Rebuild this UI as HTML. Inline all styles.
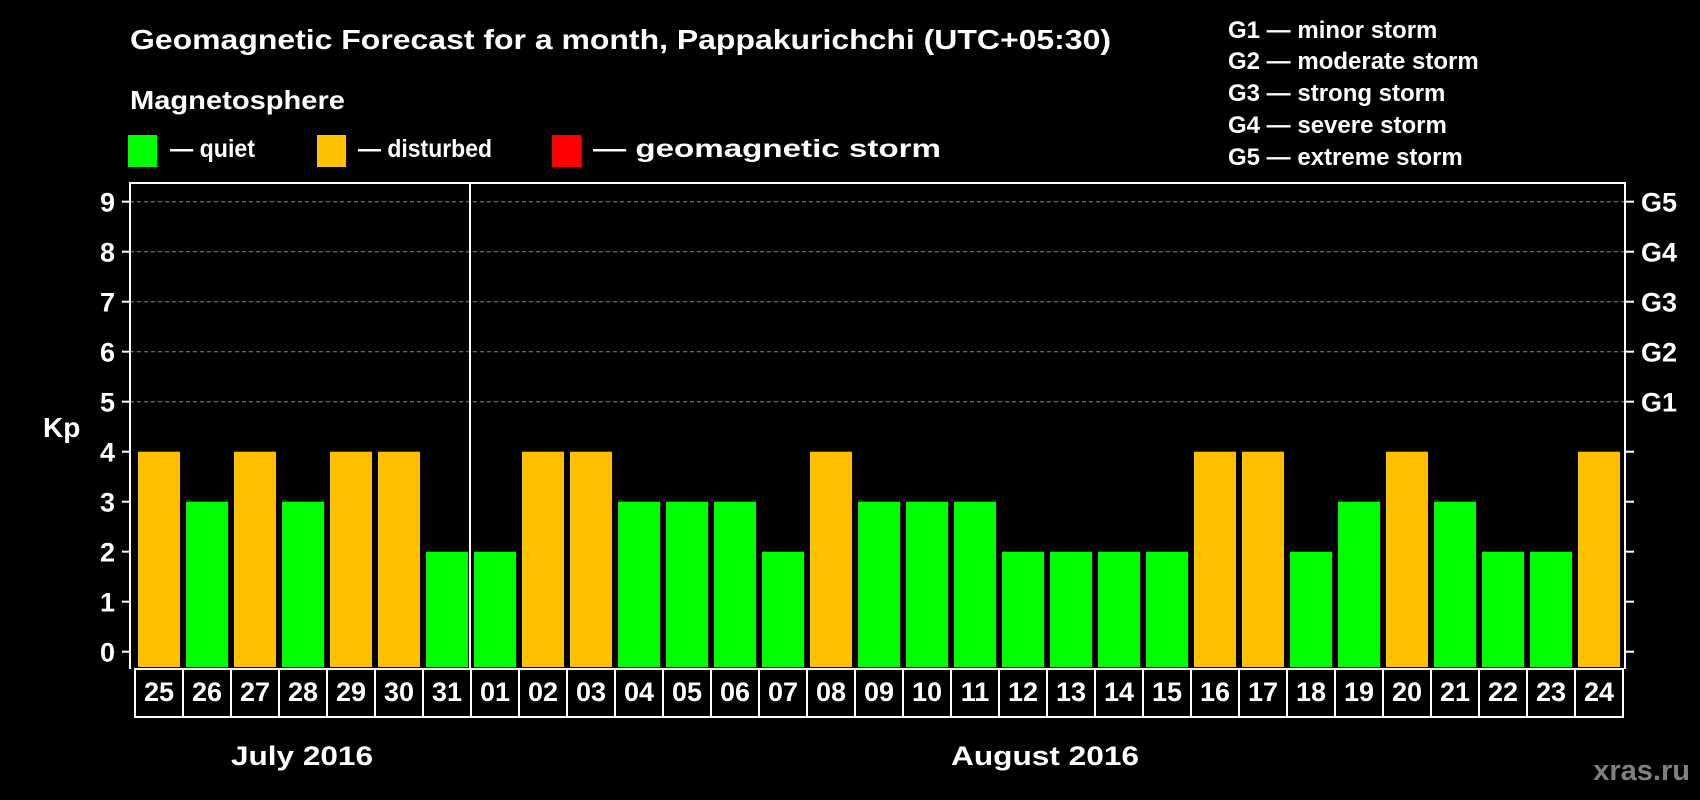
<!DOCTYPE html>
<html><head><meta charset="utf-8"><style>
html,body{margin:0;padding:0;background:#000;}
svg{display:block;font-family:"Liberation Sans",Arial,sans-serif;font-weight:bold;}
</style></head><body>
<svg id="chart" width="1700" height="800" viewBox="0 0 1700 800">
<rect width="1700" height="800" fill="#000"/>
<text x="130" y="49" fill="#fff" font-size="28" textLength="981" lengthAdjust="spacingAndGlyphs">Geomagnetic Forecast for a month, Pappakurichchi (UTC+05:30)</text>
<text x="130" y="109" fill="#fff" font-size="26" textLength="215" lengthAdjust="spacingAndGlyphs">Magnetosphere</text>
<g>
<rect x="128" y="135" width="29" height="32" fill="#00ff00"/>
<text x="170" y="157" fill="#fff" font-size="25" textLength="85" lengthAdjust="spacingAndGlyphs">— quiet</text></g>
<g>
<rect x="317" y="135" width="29" height="32" fill="#ffc000"/>
<text x="358" y="157" fill="#fff" font-size="25" textLength="134" lengthAdjust="spacingAndGlyphs">— disturbed</text></g>
<g>
<rect x="552" y="135" width="29" height="32" fill="#ff0000"/>
<text x="593" y="157" fill="#fff" font-size="25" textLength="348" lengthAdjust="spacingAndGlyphs">— geomagnetic storm</text></g>
<g fill="#fff" font-size="24">
<text x="1228" y="38">G1 — minor storm</text>
<text x="1228" y="69">G2 — moderate storm</text>
<text x="1228" y="101">G3 — strong storm</text>
<text x="1228" y="133">G4 — severe storm</text>
<text x="1228" y="165">G5 — extreme storm</text>
</g>
<text x="43" y="437" fill="#fff" font-size="28">Kp</text>
<g id="grid"></g><g id="bars"></g><g id="axes"></g><g id="xlabels"></g>
<text x="302" y="765" fill="#fff" font-size="27" text-anchor="middle" textLength="142" lengthAdjust="spacingAndGlyphs">July 2016</text>
<text x="1045" y="765" fill="#fff" font-size="27" text-anchor="middle" textLength="188" lengthAdjust="spacingAndGlyphs">August 2016</text>
<text x="1690" y="780" fill="#808080" font-size="29" text-anchor="end">xras.ru</text>
</svg>
<script>
const days = ["25","26","27","28","29","30","31","01","02","03","04","05","06","07","08","09","10","11","12","13","14","15","16","17","18","19","20","21","22","23","24"];
const kpValues = [4,3,4,3,4,4,2,2,4,4,3,3,3,2,4,3,3,3,2,2,2,2,4,4,2,3,4,3,2,2,4];
const yTicks = [0,1,2,3,4,5,6,7,8,9];
const gLabels = ["G1","G2","G3","G4","G5"];
const gLevels = [5,6,7,8,9];
const monthSplitIndex = 7;

const NS = "http://www.w3.org/2000/svg";
const plotLeft = 130, plotRight = 1625, plotTop = 183, slot0 = 135, slotW = 48, barBottom = 667;
const yScale = v => 651.7 - v * 50;
const xs = i => slot0 + i * slotW;
function mk(tag, attrs, parent, txt) {
  const e = document.createElementNS(NS, tag);
  for (const k in attrs) e.setAttribute(k, attrs[k]);
  if (txt !== undefined) e.textContent = txt;
  parent.appendChild(e); return e;
}
const grid = document.getElementById("grid"), bars = document.getElementById("bars"),
      axes = document.getElementById("axes"), xl = document.getElementById("xlabels");

yTicks.forEach(t => {
  if (t >= 5) {
    const g = mk("line", {x1: plotLeft, x2: plotRight, y1: yScale(t), y2: yScale(t), stroke: "#888", "stroke-width": 1, "stroke-dasharray": "4,3"}, grid);
    
    
  }
  const tk = mk("line", {x1: plotLeft - 8, x2: plotLeft, y1: yScale(t), y2: yScale(t), stroke: "#fff", "stroke-width": 2}, axes);
  
  
  const tr = mk("line", {x1: plotRight, x2: plotRight + 9, y1: yScale(t), y2: yScale(t), stroke: "#fff", "stroke-width": 2}, axes);
  
  
  const lb = mk("text", {x: 115, y: yScale(t) + 10, fill: "#fff", "font-size": 27, "text-anchor": "end"}, axes, String(t));
  
  
});
gLabels.forEach((g, i) => {
  const t = mk("text", {x: 1641, y: yScale(gLevels[i]) + 10, fill: "#fff", "font-size": 27}, axes, g);
  
  
});
kpValues.forEach((v, i) => {
  const b = mk("rect", {x: xs(i) + 3, y: yScale(v), width: 42, height: barBottom - yScale(v), fill: v >= 5 ? "#ff0000" : (v >= 4 ? "#ffc000" : "#00ff00")}, bars);
  
  
  const c = mk("rect", {x: xs(i), y: 669, width: slotW, height: 48, fill: "none", stroke: "#fff", "stroke-width": 2}, xl);
  
  
  const t = mk("text", {x: xs(i) + slotW / 2, y: 701, fill: "#fff", "font-size": 27, "text-anchor": "middle"}, xl, days[i]);
  
  
});
const frame = mk("path", {d: `M${plotLeft} 669 V${plotTop} H${plotRight} V669`, fill: "none", stroke: "#fff", "stroke-width": 2}, axes);


const div = mk("line", {x1: xs(monthSplitIndex) - 1, x2: xs(monthSplitIndex) - 1, y1: plotTop, y2: 669, stroke: "#fff", "stroke-width": 2}, axes);


</script>
</body></html>
